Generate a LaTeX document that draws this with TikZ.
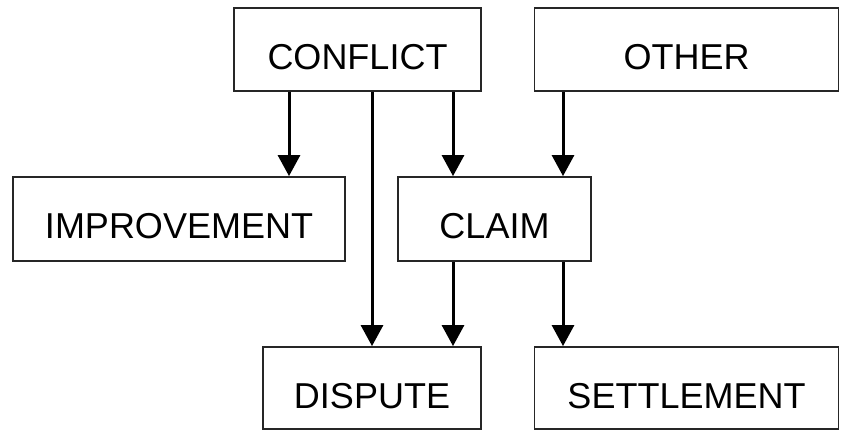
\documentclass[tikz,border=0pt]{standalone}
\usepackage{fontspec}
\setmainfont{Liberation Sans}
\usetikzlibrary{arrows.meta}
\begin{document}
\begin{tikzpicture}[x=1pt,y=-1pt,
  box/.style={draw=black!85,line width=1.8pt,fill=white,inner sep=0pt,text height=40pt,text depth=0pt,font=\fontsize{36}{40}\selectfont},
  arr/.style={line width=3pt,-{Triangle[width=22pt,length=21pt]}}]
\useasboundingbox (0,0) rectangle (854,430);
\node[box,minimum width=247pt,minimum height=83pt] (conflict) at (357.5,49.5) {CONFLICT};
\node[box,minimum width=304pt,minimum height=83pt] (other) at (686.5,49.5) {OTHER};
\node[box,minimum width=332pt,minimum height=84pt] (improve) at (179,219) {IMPROVEMENT};
\node[box,minimum width=193pt,minimum height=84pt] (claim) at (494.5,219) {CLAIM};
\node[box,minimum width=218pt,minimum height=82pt] (dispute) at (372,388) {DISPUTE};
\node[box,minimum width=304pt,minimum height=82pt] (settle) at (686.5,388) {SETTLEMENT};
\draw[arr] (conflict.south -| 289,0) -- (improve.north -| 289,0);
\draw[arr] (conflict.south -| 372,0) -- (dispute.north -| 372,0);
\draw[arr] (conflict.south -| 453,0) -- (claim.north -| 453,0);
\draw[arr] (other.south -| 563,0) -- (claim.north -| 563,0);
\draw[arr] (claim.south -| 453,0) -- (dispute.north -| 453,0);
\draw[arr] (claim.south -| 563,0) -- (settle.north -| 563,0);
\end{tikzpicture}
\end{document}
